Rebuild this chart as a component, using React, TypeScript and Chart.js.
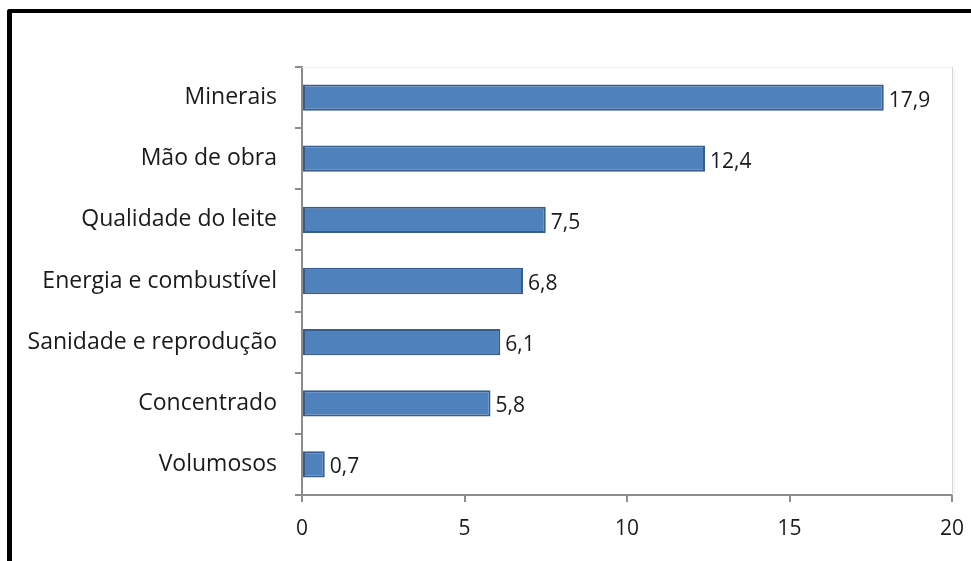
import React, { useEffect, useRef } from "react";
import { Chart, registerables } from "chart.js";

Chart.register(...registerables);

const categories = [
  "Minerais",
  "Mão de obra",
  "Qualidade do leite",
  "Energia e combustível",
  "Sanidade e reprodução",
  "Concentrado",
  "Volumosos",
];
const values = [17.9, 12.4, 7.5, 6.8, 6.1, 5.8, 0.7];
const xTicks = [0, 5, 10, 15, 20];

const FONT = "'Open Sans', 'Noto Sans', sans-serif";

const dataLabels = {
  id: "dataLabels",
  afterDatasetsDraw(chart: any) {
    const ctx = chart.ctx;
    const meta = chart.getDatasetMeta(0);
    ctx.save();
    ctx.font = `21px ${FONT}`;
    ctx.fillStyle = "#1a1a1a";
    ctx.textAlign = "left";
    ctx.textBaseline = "middle";
    meta.data.forEach((bar: any, i: number) => {
      const txt = values[i].toFixed(1).replace(".", ",");
      ctx.fillText(txt, bar.x + 5, bar.y + 3);
    });
    ctx.restore();
  },
};

const plotFrame = {
  id: "plotFrame",
  beforeDatasetsDraw(chart: any) {
    const { ctx, chartArea } = chart;
    ctx.save();
    ctx.strokeStyle = "#f0f0f0";
    ctx.lineWidth = 1;
    ctx.beginPath();
    ctx.moveTo(chartArea.left, chartArea.top + 0.5);
    ctx.lineTo(chartArea.right, chartArea.top + 0.5);
    ctx.stroke();
    ctx.strokeStyle = "#d6d6d6";
    ctx.beginPath();
    ctx.moveTo(chartArea.right + 0.5, chartArea.top);
    ctx.lineTo(chartArea.right + 0.5, chartArea.bottom);
    ctx.stroke();
    ctx.strokeStyle = "#eeeeee";
    ctx.beginPath();
    ctx.moveTo(chartArea.right + 2, chartArea.top + 2);
    ctx.lineTo(chartArea.right + 2, chartArea.bottom);
    ctx.stroke();
    ctx.restore();
  },
};

export default function App() {
  const ref = useRef<HTMLCanvasElement | null>(null);
  useEffect(() => {
    if (!ref.current) return;
    const chart = new Chart(ref.current, {
      type: "bar",
      data: {
        labels: categories,
        datasets: [
          {
            data: values,
            backgroundColor: "#4F81BD",
            borderColor: "#385D8A",
            borderWidth: 2,
            borderSkipped: false,
            categoryPercentage: 1,
            barPercentage: 0.43,
          },
        ],
      },
      options: {
        indexAxis: "y",
        animation: false,
        responsive: false,
        maintainAspectRatio: false,
        layout: { padding: { left: 0, top: 67, right: 19, bottom: 0 } },
        plugins: { legend: { display: false }, tooltip: { enabled: false } },
        scales: {
          x: {
            type: "linear",
            min: 0,
            max: 20,
            afterBuildTicks: (axis: any) => {
              axis.ticks = xTicks.map((v) => ({ value: v }));
            },
            afterFit: (axis: any) => {
              axis.height = 66;
              axis.paddingLeft = 0;
              axis.paddingRight = 0;
            },
            grid: {
              drawOnChartArea: false,
              drawTicks: true,
              tickLength: 7,
              color: "#8c8c8c",
              lineWidth: 2,
            },
            border: { color: "#8c8c8c", width: 2 },
            ticks: {
              padding: 14,
              color: "#1a1a1a",
              font: { family: FONT, size: 21 },
              maxRotation: 0,
            },
          },
          y: {
            type: "category",
            afterFit: (axis: any) => {
              axis.width = 302;
              axis.paddingTop = 0;
              axis.paddingBottom = 0;
            },
            grid: {
              offset: true,
              drawOnChartArea: false,
              drawTicks: true,
              tickLength: 7,
              color: "#8c8c8c",
              lineWidth: 2,
            },
            border: { color: "#8c8c8c", width: 2 },
            ticks: {
              padding: 18,
              color: "#1a1a1a",
              font: { family: FONT, size: 23 },
            },
          },
        },
      },
      plugins: [plotFrame, dataLabels],
    });
    return () => chart.destroy();
  }, []);

  return (
    <div
      style={{
        position: "fixed",
        left: 0,
        top: 0,
        width: 971,
        height: 561,
        background: "#fff",
        overflow: "hidden",
      }}
    >
      <div
        style={{
          position: "absolute",
          left: 7,
          top: 9,
          width: 1000,
          height: 600,
          borderTop: "4px solid #000",
          borderLeft: "5px solid #000",
          borderTopLeftRadius: 3,
        }}
      />
      <canvas
        ref={ref}
        width={971}
        height={561}
        style={{ position: "absolute", left: 0, top: 0, width: 971, height: 561 }}
      />
    </div>
  );
}
